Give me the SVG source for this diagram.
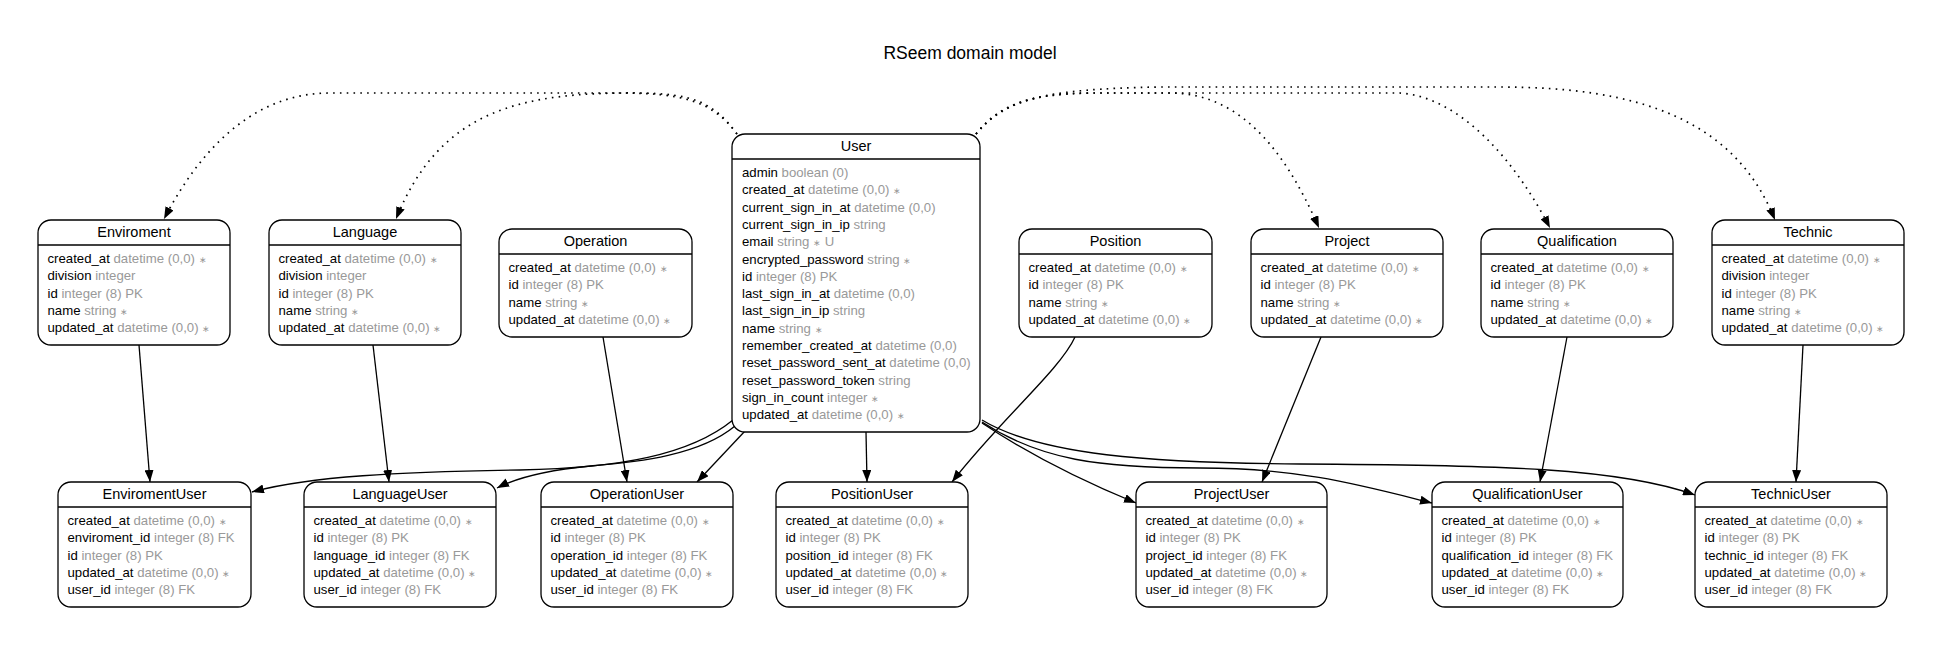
<svg xmlns="http://www.w3.org/2000/svg" width="1942" height="646" viewBox="0 0 1942 646">
<style>
.bg{fill:#fff}
.box{fill:#fff;stroke:#000;stroke-width:1.3}
.hl{stroke:#000;stroke-width:1.3}
.ttl{font-family:"Liberation Sans",Arial,sans-serif;font-size:14.5px;text-anchor:middle;fill:#000}
.r{font-family:"Liberation Sans",Arial,sans-serif;font-size:13.2px;fill:#000}
.t{fill:#999}
.s{font-size:9px;fill:#999}
.e{fill:none;stroke:#000;stroke-width:1.3}
.d{stroke-dasharray:1.6 5.2;stroke-width:1.7}
.page{font-family:"Liberation Sans",Arial,sans-serif;font-size:17.5px;text-anchor:middle;fill:#000}
</style>
<defs>
<marker id="a" markerUnits="userSpaceOnUse" markerWidth="12" markerHeight="9" refX="12" refY="4.5" orient="auto"><path d="M0,0 L12,4.5 L0,9 z" fill="#000"/></marker>
</defs>
<rect class="bg" x="0" y="0" width="1942" height="646"/>
<text class="page" x="970" y="59">RSeem domain model</text>

<g id="connectors">
<path class="e d" marker-end="url(#a)" d="M737,134 C712,100 680,93 620,93 L330,93 C260,93 205,140 164,219"/>
<path class="e d" marker-end="url(#a)" d="M737,134 C712,100 690,94 640,93 C520,92 440,110 396,219"/>
<path class="e d" marker-end="url(#a)" d="M976,134 C1000,104 1030,94 1090,93 L1170,93 C1240,93 1285,150 1319,228"/>
<path class="e d" marker-end="url(#a)" d="M976,134 C1000,104 1030,94 1090,93 L1400,93 C1460,97 1515,160 1550,228"/>
<path class="e d" marker-end="url(#a)" d="M976,134 C1005,100 1040,89 1160,87 L1500,87 C1640,87 1735,120 1775,220"/>
<path class="e" marker-end="url(#a)" d="M139,345 L150,482"/>
<path class="e" marker-end="url(#a)" d="M373,345 L389,482"/>
<path class="e" marker-end="url(#a)" d="M603,337 L627,482"/>
<path class="e" marker-end="url(#a)" d="M1075,337 C1060,370 1000,420 952,482"/>
<path class="e" marker-end="url(#a)" d="M1321,337 L1262,482"/>
<path class="e" marker-end="url(#a)" d="M1567,337 L1540,482"/>
<path class="e" marker-end="url(#a)" d="M1803,345 L1796,482"/>
<path class="e" marker-end="url(#a)" d="M866,432 L867,482"/>
<path class="e" marker-end="url(#a)" d="M745,431 L697,482"/>
<path class="e" marker-end="url(#a)" d="M733,420 C690,455 620,468 520,470 C400,472 310,476 252,492"/>
<path class="e" marker-end="url(#a)" d="M735,426 C700,455 640,462 590,466 C550,470 520,476 497,488"/>
<path class="e" marker-end="url(#a)" d="M982,423 C1030,455 1080,480 1136,503"/>
<path class="e" marker-end="url(#a)" d="M982,422 C1040,460 1100,468 1200,468 C1300,468 1360,485 1432,503"/>
<path class="e" marker-end="url(#a)" d="M982,420 C1040,455 1150,463 1300,464 C1500,465 1620,468 1695,495"/>
</g>

<g id="Enviroment" transform="translate(38,220)">
<rect class="box" width="192" height="125" rx="13"/><line class="hl" x1="0" y1="25" x2="192" y2="25"/>
<text class="ttl" x="96" y="17">Enviroment</text>
<text class="r" x="9.5" y="43">created_at<tspan class="t"> datetime (0,0) </tspan><tspan class="s">∗</tspan></text>
<text class="r" x="9.5" y="60.3">division<tspan class="t"> integer</tspan></text>
<text class="r" x="9.5" y="77.6">id<tspan class="t"> integer (8) PK</tspan></text>
<text class="r" x="9.5" y="94.9">name<tspan class="t"> string </tspan><tspan class="s">∗</tspan></text>
<text class="r" x="9.5" y="112.2">updated_at<tspan class="t"> datetime (0,0) </tspan><tspan class="s">∗</tspan></text>
</g>

<g id="Language" transform="translate(269,220)">
<rect class="box" width="192" height="125" rx="13"/><line class="hl" x1="0" y1="25" x2="192" y2="25"/>
<text class="ttl" x="96" y="17">Language</text>
<text class="r" x="9.5" y="43">created_at<tspan class="t"> datetime (0,0) </tspan><tspan class="s">∗</tspan></text>
<text class="r" x="9.5" y="60.3">division<tspan class="t"> integer</tspan></text>
<text class="r" x="9.5" y="77.6">id<tspan class="t"> integer (8) PK</tspan></text>
<text class="r" x="9.5" y="94.9">name<tspan class="t"> string </tspan><tspan class="s">∗</tspan></text>
<text class="r" x="9.5" y="112.2">updated_at<tspan class="t"> datetime (0,0) </tspan><tspan class="s">∗</tspan></text>
</g>

<g id="Operation" transform="translate(499,229)">
<rect class="box" width="193" height="108" rx="13"/><line class="hl" x1="0" y1="25" x2="193" y2="25"/>
<text class="ttl" x="96.5" y="17">Operation</text>
<text class="r" x="9.5" y="43">created_at<tspan class="t"> datetime (0,0) </tspan><tspan class="s">∗</tspan></text>
<text class="r" x="9.5" y="60.3">id<tspan class="t"> integer (8) PK</tspan></text>
<text class="r" x="9.5" y="77.6">name<tspan class="t"> string </tspan><tspan class="s">∗</tspan></text>
<text class="r" x="9.5" y="94.9">updated_at<tspan class="t"> datetime (0,0) </tspan><tspan class="s">∗</tspan></text>
</g>

<g id="User" transform="translate(732,134)">
<rect class="box" width="248" height="298" rx="13"/><line class="hl" x1="0" y1="25" x2="248" y2="25"/>
<text class="ttl" x="124" y="17">User</text>
<text class="r" x="10" y="43">admin<tspan class="t"> boolean (0)</tspan></text>
<text class="r" x="10" y="60.3">created_at<tspan class="t"> datetime (0,0) </tspan><tspan class="s">∗</tspan></text>
<text class="r" x="10" y="77.6">current_sign_in_at<tspan class="t"> datetime (0,0)</tspan></text>
<text class="r" x="10" y="94.9">current_sign_in_ip<tspan class="t"> string</tspan></text>
<text class="r" x="10" y="112.2">email<tspan class="t"> string </tspan><tspan class="s">∗</tspan><tspan class="t"> U</tspan></text>
<text class="r" x="10" y="129.5">encrypted_password<tspan class="t"> string </tspan><tspan class="s">∗</tspan></text>
<text class="r" x="10" y="146.8">id<tspan class="t"> integer (8) PK</tspan></text>
<text class="r" x="10" y="164.1">last_sign_in_at<tspan class="t"> datetime (0,0)</tspan></text>
<text class="r" x="10" y="181.4">last_sign_in_ip<tspan class="t"> string</tspan></text>
<text class="r" x="10" y="198.7">name<tspan class="t"> string </tspan><tspan class="s">∗</tspan></text>
<text class="r" x="10" y="216">remember_created_at<tspan class="t"> datetime (0,0)</tspan></text>
<text class="r" x="10" y="233.3">reset_password_sent_at<tspan class="t"> datetime (0,0)</tspan></text>
<text class="r" x="10" y="250.6">reset_password_token<tspan class="t"> string</tspan></text>
<text class="r" x="10" y="267.9">sign_in_count<tspan class="t"> integer </tspan><tspan class="s">∗</tspan></text>
<text class="r" x="10" y="285.2">updated_at<tspan class="t"> datetime (0,0) </tspan><tspan class="s">∗</tspan></text>
</g>

<g id="Position" transform="translate(1019,229)">
<rect class="box" width="193" height="108" rx="13"/><line class="hl" x1="0" y1="25" x2="193" y2="25"/>
<text class="ttl" x="96.5" y="17">Position</text>
<text class="r" x="9.5" y="43">created_at<tspan class="t"> datetime (0,0) </tspan><tspan class="s">∗</tspan></text>
<text class="r" x="9.5" y="60.3">id<tspan class="t"> integer (8) PK</tspan></text>
<text class="r" x="9.5" y="77.6">name<tspan class="t"> string </tspan><tspan class="s">∗</tspan></text>
<text class="r" x="9.5" y="94.9">updated_at<tspan class="t"> datetime (0,0) </tspan><tspan class="s">∗</tspan></text>
</g>

<g id="Project" transform="translate(1251,229)">
<rect class="box" width="192" height="108" rx="13"/><line class="hl" x1="0" y1="25" x2="192" y2="25"/>
<text class="ttl" x="96" y="17">Project</text>
<text class="r" x="9.5" y="43">created_at<tspan class="t"> datetime (0,0) </tspan><tspan class="s">∗</tspan></text>
<text class="r" x="9.5" y="60.3">id<tspan class="t"> integer (8) PK</tspan></text>
<text class="r" x="9.5" y="77.6">name<tspan class="t"> string </tspan><tspan class="s">∗</tspan></text>
<text class="r" x="9.5" y="94.9">updated_at<tspan class="t"> datetime (0,0) </tspan><tspan class="s">∗</tspan></text>
</g>

<g id="Qualification" transform="translate(1481,229)">
<rect class="box" width="192" height="108" rx="13"/><line class="hl" x1="0" y1="25" x2="192" y2="25"/>
<text class="ttl" x="96" y="17">Qualification</text>
<text class="r" x="9.5" y="43">created_at<tspan class="t"> datetime (0,0) </tspan><tspan class="s">∗</tspan></text>
<text class="r" x="9.5" y="60.3">id<tspan class="t"> integer (8) PK</tspan></text>
<text class="r" x="9.5" y="77.6">name<tspan class="t"> string </tspan><tspan class="s">∗</tspan></text>
<text class="r" x="9.5" y="94.9">updated_at<tspan class="t"> datetime (0,0) </tspan><tspan class="s">∗</tspan></text>
</g>

<g id="Technic" transform="translate(1712,220)">
<rect class="box" width="192" height="125" rx="13"/><line class="hl" x1="0" y1="25" x2="192" y2="25"/>
<text class="ttl" x="96" y="17">Technic</text>
<text class="r" x="9.5" y="43">created_at<tspan class="t"> datetime (0,0) </tspan><tspan class="s">∗</tspan></text>
<text class="r" x="9.5" y="60.3">division<tspan class="t"> integer</tspan></text>
<text class="r" x="9.5" y="77.6">id<tspan class="t"> integer (8) PK</tspan></text>
<text class="r" x="9.5" y="94.9">name<tspan class="t"> string </tspan><tspan class="s">∗</tspan></text>
<text class="r" x="9.5" y="112.2">updated_at<tspan class="t"> datetime (0,0) </tspan><tspan class="s">∗</tspan></text>
</g>

<g id="EnviromentUser" transform="translate(58,482)">
<rect class="box" width="193" height="125" rx="13"/><line class="hl" x1="0" y1="25" x2="193" y2="25"/>
<text class="ttl" x="96.5" y="17">EnviromentUser</text>
<text class="r" x="9.5" y="43">created_at<tspan class="t"> datetime (0,0) </tspan><tspan class="s">∗</tspan></text>
<text class="r" x="9.5" y="60.3">enviroment_id<tspan class="t"> integer (8) FK</tspan></text>
<text class="r" x="9.5" y="77.6">id<tspan class="t"> integer (8) PK</tspan></text>
<text class="r" x="9.5" y="94.9">updated_at<tspan class="t"> datetime (0,0) </tspan><tspan class="s">∗</tspan></text>
<text class="r" x="9.5" y="112.2">user_id<tspan class="t"> integer (8) FK</tspan></text>
</g>

<g id="LanguageUser" transform="translate(304,482)">
<rect class="box" width="192" height="125" rx="13"/><line class="hl" x1="0" y1="25" x2="192" y2="25"/>
<text class="ttl" x="96" y="17">LanguageUser</text>
<text class="r" x="9.5" y="43">created_at<tspan class="t"> datetime (0,0) </tspan><tspan class="s">∗</tspan></text>
<text class="r" x="9.5" y="60.3">id<tspan class="t"> integer (8) PK</tspan></text>
<text class="r" x="9.5" y="77.6">language_id<tspan class="t"> integer (8) FK</tspan></text>
<text class="r" x="9.5" y="94.9">updated_at<tspan class="t"> datetime (0,0) </tspan><tspan class="s">∗</tspan></text>
<text class="r" x="9.5" y="112.2">user_id<tspan class="t"> integer (8) FK</tspan></text>
</g>

<g id="OperationUser" transform="translate(541,482)">
<rect class="box" width="192" height="125" rx="13"/><line class="hl" x1="0" y1="25" x2="192" y2="25"/>
<text class="ttl" x="96" y="17">OperationUser</text>
<text class="r" x="9.5" y="43">created_at<tspan class="t"> datetime (0,0) </tspan><tspan class="s">∗</tspan></text>
<text class="r" x="9.5" y="60.3">id<tspan class="t"> integer (8) PK</tspan></text>
<text class="r" x="9.5" y="77.6">operation_id<tspan class="t"> integer (8) FK</tspan></text>
<text class="r" x="9.5" y="94.9">updated_at<tspan class="t"> datetime (0,0) </tspan><tspan class="s">∗</tspan></text>
<text class="r" x="9.5" y="112.2">user_id<tspan class="t"> integer (8) FK</tspan></text>
</g>

<g id="PositionUser" transform="translate(776,482)">
<rect class="box" width="192" height="125" rx="13"/><line class="hl" x1="0" y1="25" x2="192" y2="25"/>
<text class="ttl" x="96" y="17">PositionUser</text>
<text class="r" x="9.5" y="43">created_at<tspan class="t"> datetime (0,0) </tspan><tspan class="s">∗</tspan></text>
<text class="r" x="9.5" y="60.3">id<tspan class="t"> integer (8) PK</tspan></text>
<text class="r" x="9.5" y="77.6">position_id<tspan class="t"> integer (8) FK</tspan></text>
<text class="r" x="9.5" y="94.9">updated_at<tspan class="t"> datetime (0,0) </tspan><tspan class="s">∗</tspan></text>
<text class="r" x="9.5" y="112.2">user_id<tspan class="t"> integer (8) FK</tspan></text>
</g>

<g id="ProjectUser" transform="translate(1136,482)">
<rect class="box" width="191" height="125" rx="13"/><line class="hl" x1="0" y1="25" x2="191" y2="25"/>
<text class="ttl" x="95.5" y="17">ProjectUser</text>
<text class="r" x="9.5" y="43">created_at<tspan class="t"> datetime (0,0) </tspan><tspan class="s">∗</tspan></text>
<text class="r" x="9.5" y="60.3">id<tspan class="t"> integer (8) PK</tspan></text>
<text class="r" x="9.5" y="77.6">project_id<tspan class="t"> integer (8) FK</tspan></text>
<text class="r" x="9.5" y="94.9">updated_at<tspan class="t"> datetime (0,0) </tspan><tspan class="s">∗</tspan></text>
<text class="r" x="9.5" y="112.2">user_id<tspan class="t"> integer (8) FK</tspan></text>
</g>

<g id="QualificationUser" transform="translate(1432,482)">
<rect class="box" width="191" height="125" rx="13"/><line class="hl" x1="0" y1="25" x2="191" y2="25"/>
<text class="ttl" x="95.5" y="17">QualificationUser</text>
<text class="r" x="9.5" y="43">created_at<tspan class="t"> datetime (0,0) </tspan><tspan class="s">∗</tspan></text>
<text class="r" x="9.5" y="60.3">id<tspan class="t"> integer (8) PK</tspan></text>
<text class="r" x="9.5" y="77.6">qualification_id<tspan class="t"> integer (8) FK</tspan></text>
<text class="r" x="9.5" y="94.9">updated_at<tspan class="t"> datetime (0,0) </tspan><tspan class="s">∗</tspan></text>
<text class="r" x="9.5" y="112.2">user_id<tspan class="t"> integer (8) FK</tspan></text>
</g>

<g id="TechnicUser" transform="translate(1695,482)">
<rect class="box" width="192" height="125" rx="13"/><line class="hl" x1="0" y1="25" x2="192" y2="25"/>
<text class="ttl" x="96" y="17">TechnicUser</text>
<text class="r" x="9.5" y="43">created_at<tspan class="t"> datetime (0,0) </tspan><tspan class="s">∗</tspan></text>
<text class="r" x="9.5" y="60.3">id<tspan class="t"> integer (8) PK</tspan></text>
<text class="r" x="9.5" y="77.6">technic_id<tspan class="t"> integer (8) FK</tspan></text>
<text class="r" x="9.5" y="94.9">updated_at<tspan class="t"> datetime (0,0) </tspan><tspan class="s">∗</tspan></text>
<text class="r" x="9.5" y="112.2">user_id<tspan class="t"> integer (8) FK</tspan></text>
</g>
</svg>
